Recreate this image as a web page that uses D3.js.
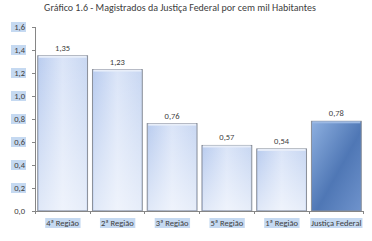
<!DOCTYPE html>
<html>
<head>
<meta charset="utf-8">
<script src="https://cdn.jsdelivr.net/npm/d3@7"></script>
<style>
  body { margin: 0; background: #fff; }
  svg { display: block; font-family: Calibri, Carlito, Lato, "Liberation Sans", sans-serif; }
</style>
</head>
<body>
<svg id="chart" width="372" height="241"></svg>
<script>
const categories = ["4ª Região", "2ª Região", "3ª Região", "5ª Região", "1ª Região", "Justiça Federal"];
const values = [1.35, 1.23, 0.76, 0.57, 0.54, 0.78];
const valueLabels = ["1,35", "1,23", "0,76", "0,57", "0,54", "0,78"];
const yTicks = [0, 0.2, 0.4, 0.6, 0.8, 1.0, 1.2, 1.4, 1.6];
const title = "Gráfico 1.6 - Magistrados da Justiça Federal por cem mil Habitantes";

const svg = d3.select("#chart"),
      width = 372, height = 241,
      margin = {top: 27, right: 8, bottom: 30, left: 35};

const x = d3.scaleBand()
    .domain(categories)
    .range([margin.left, width - margin.right])
    .paddingInner(0.09)
    .paddingOuter(0.05);

const y = d3.scaleLinear()
    .domain([0, 1.6])
    .range([height - margin.bottom, margin.top]);

const defs = svg.append("defs");

// light bars
let g1 = defs.append("linearGradient").attr("id", "light").attr("x1", 0).attr("x2", 1).attr("y1", 0).attr("y2", 0);
g1.append("stop").attr("offset", "0%").attr("stop-color", "#b9ccef");
g1.append("stop").attr("offset", "50%").attr("stop-color", "#dbe5f8");
g1.append("stop").attr("offset", "100%").attr("stop-color", "#c8d7f2");
let g1v = defs.append("linearGradient").attr("id", "lightv").attr("x1", 0).attr("x2", 0).attr("y1", 0).attr("y2", 1);
g1v.append("stop").attr("offset", "0%").attr("stop-color", "#fff").attr("stop-opacity", 0);
g1v.append("stop").attr("offset", "100%").attr("stop-color", "#fff").attr("stop-opacity", 0.55);

// dark bar
let g2 = defs.append("linearGradient").attr("id", "dark").attr("x1", 0).attr("x2", 1).attr("y1", 0).attr("y2", 1);
g2.append("stop").attr("offset", "0%").attr("stop-color", "#8eb0e0");
g2.append("stop").attr("offset", "55%").attr("stop-color", "#4f77b5");
g2.append("stop").attr("offset", "100%").attr("stop-color", "#6f93cc");

// title
svg.append("text")
    .attr("x", 180).attr("y", 11)
    .attr("text-anchor", "middle")
    .attr("font-size", 10)
    .attr("fill", "#404040")
    .text(title);

// y axis
svg.append("line")
    .attr("x1", margin.left + 0.5).attr("x2", margin.left + 0.5)
    .attr("y1", y(1.6)).attr("y2", y(0))
    .attr("stroke", "#868686");

yTicks.forEach(t => {
  svg.append("line")
    .attr("x1", margin.left - 3).attr("x2", margin.left)
    .attr("y1", Math.round(y(t)) + 0.5).attr("y2", Math.round(y(t)) + 0.5)
    .attr("stroke", "#868686");
  const lbl = d3.format(".1f")(t).replace(".", ",");
  if (t > 0) {
    svg.append("rect")
      .attr("x", 11).attr("y", y(t) - 5)
      .attr("width", 15).attr("height", 10)
      .attr("fill", "#c5d9f1");
  }
  svg.append("text")
    .attr("x", 25).attr("y", y(t) + 3)
    .attr("text-anchor", "end")
    .attr("font-size", 8.5)
    .attr("fill", "#404040")
    .text(lbl);
});

// bars
categories.forEach((c, i) => {
  const bx = x(c), bw = x.bandwidth(), by = y(values[i]), bh = y(0) - y(values[i]);
  const last = i === categories.length - 1;
  svg.append("rect")
    .attr("x", bx).attr("y", by).attr("width", bw).attr("height", bh)
    .attr("fill", last ? "url(#dark)" : "url(#light)")
    .attr("stroke", "#8a8f99").attr("stroke-width", 1);
  if (!last) {
    svg.append("rect")
      .attr("x", bx + 1).attr("y", by + 1).attr("width", bw - 2).attr("height", bh - 2)
      .attr("fill", "url(#lightv)");
  }
  svg.append("rect")
    .attr("x", bx + 1).attr("y", by).attr("width", bw - 2).attr("height", 2)
    .attr("fill", last ? "#9db9e3" : "#e8eef9");
  svg.append("text")
    .attr("x", bx + bw / 2).attr("y", by - 5)
    .attr("text-anchor", "middle")
    .attr("font-size", 8.5)
    .attr("fill", "#404040")
    .text(valueLabels[i]);
});

// x axis
svg.append("line")
  .attr("x1", margin.left).attr("x2", width - margin.right)
  .attr("y1", y(0) + 0.5).attr("y2", y(0) + 0.5)
  .attr("stroke", "#868686");

const step = x.step();
d3.range(categories.length + 1).forEach(k => {
  const tx = Math.round(margin.left + k * step) + 0.5;
  svg.append("line")
    .attr("x1", tx).attr("x2", tx)
    .attr("y1", y(0)).attr("y2", y(0) + 3)
    .attr("stroke", "#868686");
});

categories.forEach(c => {
  const cx = x(c) + x.bandwidth() / 2;
  const t = svg.append("text")
    .attr("x", cx).attr("y", y(0) + 15)
    .attr("text-anchor", "middle")
    .attr("font-size", 8.5)
    .attr("fill", "#404040")
    .text(c);
  const bb = t.node().getBBox();
  svg.insert("rect", "text")
    .attr("x", bb.x - 1).attr("y", bb.y)
    .attr("width", bb.width + 2).attr("height", bb.height)
    .attr("fill", "#c5d9f1");
});
</script>
</body>
</html>
